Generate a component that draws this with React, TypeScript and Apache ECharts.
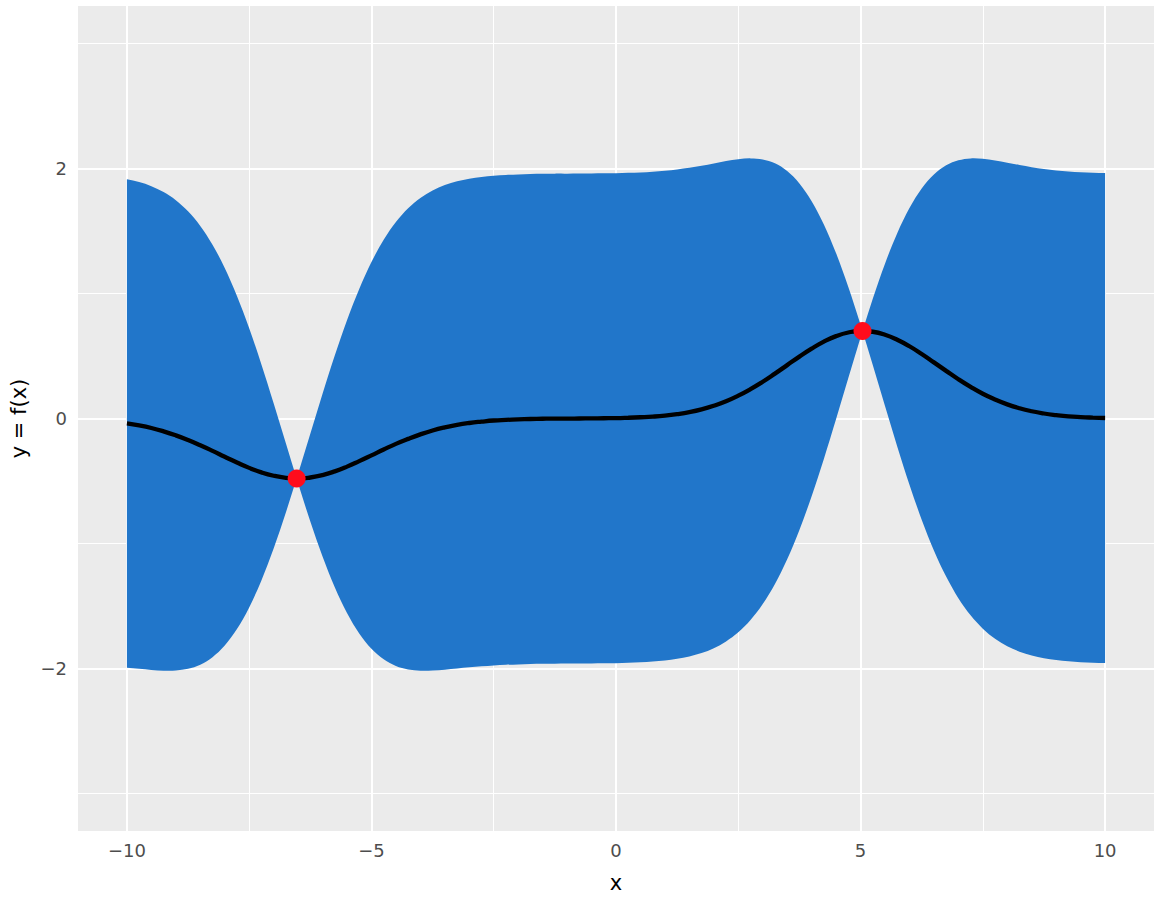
import React, { useEffect, useRef } from "react";
import * as echarts from "echarts";

const xs = [
  -10, -9.75, -9.5, -9.25, -9, -8.75, -8.5, -8.25, -8, -7.75, -7.5, -7.25, -7, -6.75, -6.53, -6.5,
  -6.25, -6, -5.75, -5.5, -5.25, -5, -4.75, -4.5, -4.25, -4, -3.75, -3.5, -3.25, -3, -2.75, -2.5,
  -2.25, -2, -1.75, -1.5, -1.25, -1, -0.75, -0.5, -0.25, 0, 0.25, 0.5, 0.75, 1, 1.25, 1.5, 1.75, 2,
  2.25, 2.5, 2.75, 3, 3.25, 3.5, 3.75, 4, 4.25, 4.5, 4.75, 5, 5.04, 5.25, 5.5, 5.75, 6, 6.25, 6.5,
  6.75, 7, 7.25, 7.5, 7.75, 8, 8.25, 8.5, 8.75, 9, 9.25, 9.5, 9.75, 10,
];

const meanY = [
  -0.039, -0.055, -0.076, -0.103, -0.135, -0.172, -0.214, -0.259, -0.306, -0.352, -0.395, -0.431,
  -0.458, -0.475, -0.48, -0.48, -0.472, -0.453, -0.423, -0.385, -0.341, -0.295, -0.248, -0.203,
  -0.163, -0.127, -0.096, -0.071, -0.051, -0.036, -0.025, -0.016, -0.011, -0.007, -0.004, -0.002,
  -0.001, -0.001, 0.0, 0.001, 0.002, 0.003, 0.006, 0.01, 0.015, 0.023, 0.035, 0.051, 0.073, 0.102,
  0.138, 0.183, 0.235, 0.294, 0.359, 0.427, 0.495, 0.559, 0.615, 0.659, 0.688, 0.7, 0.7, 0.694,
  0.67, 0.63, 0.578, 0.516, 0.449, 0.381, 0.314, 0.253, 0.198, 0.152, 0.113, 0.082, 0.058, 0.04,
  0.027, 0.017, 0.011, 0.007, 0.004,
];

const upperY = [
  1.914, 1.892, 1.859, 1.812, 1.747, 1.658, 1.541, 1.391, 1.204, 0.98, 0.722, 0.433, 0.123, -0.198,
  -0.48, -0.442, -0.121, 0.199, 0.505, 0.787, 1.037, 1.252, 1.43, 1.572, 1.682, 1.764, 1.825, 1.868,
  1.898, 1.919, 1.933, 1.943, 1.949, 1.953, 1.956, 1.958, 1.959, 1.959, 1.96, 1.961, 1.962, 1.963,
  1.966, 1.969, 1.975, 1.982, 1.993, 2.006, 2.023, 2.041, 2.06, 2.075, 2.081, 2.073, 2.042, 1.98,
  1.881, 1.739, 1.553, 1.322, 1.052, 0.75, 0.7, 0.958, 1.239, 1.483, 1.684, 1.841, 1.953, 2.026,
  2.066, 2.081, 2.078, 2.065, 2.047, 2.028, 2.011, 1.997, 1.985, 1.977, 1.971, 1.967, 1.964,
];

const lowerY = [
  -1.993, -2.002, -2.011, -2.017, -2.016, -2.002, -1.969, -1.909, -1.816, -1.684, -1.511, -1.295,
  -1.04, -0.752, -0.48, -0.518, -0.824, -1.104, -1.35, -1.556, -1.72, -1.842, -1.926, -1.979, -2.007,
  -2.017, -2.016, -2.009, -2.0, -1.99, -1.982, -1.975, -1.97, -1.967, -1.964, -1.962, -1.961, -1.96,
  -1.96, -1.959, -1.958, -1.957, -1.954, -1.95, -1.944, -1.936, -1.922, -1.903, -1.876, -1.837,
  -1.783, -1.71, -1.612, -1.484, -1.323, -1.126, -0.891, -0.622, -0.323, -0.004, 0.324, 0.649, 0.7,
  0.429, 0.1, -0.223, -0.529, -0.809, -1.055, -1.264, -1.437, -1.574, -1.681, -1.762, -1.822,
  -1.865, -1.896, -1.917, -1.932, -1.942, -1.949, -1.953, -1.956,
];

const obsX = [-6.53, 5.04];
const obsY = [-0.48, 0.7];

const xTicks = [-10, -5, 0, 5, 10];
const yTicks = [-2, 0, 2];
const xMinor = [-7.5, -2.5, 2.5, 7.5];
const yMinor = [-3, -1, 1, 3];

const FONT = "'DejaVu Sans', 'Liberation Sans', Arial, sans-serif";
const fmt = (v: number) => (v < 0 ? "\u2212" + Math.abs(v) : String(v));

// Smooth cubic (Hermite → Bézier) path through pixel points, with kinks allowed at "breaks".
function edgePath(pts: number[][], breaks: Set<number>, start: string): string {
  const n = pts.length;
  const sec = (i: number) => (pts[i + 1][1] - pts[i][1]) / (pts[i + 1][0] - pts[i][0]);
  const mL: number[] = [];
  const mR: number[] = [];
  for (let i = 0; i < n; i++) {
    if (i === 0) {
      mL[i] = mR[i] = sec(0);
    } else if (i === n - 1) {
      mL[i] = mR[i] = sec(n - 2);
    } else if (breaks.has(i)) {
      mL[i] = sec(i - 1);
      mR[i] = sec(i);
    } else {
      const h0 = pts[i][0] - pts[i - 1][0];
      const h1 = pts[i + 1][0] - pts[i][0];
      const m = (sec(i - 1) * h1 + sec(i) * h0) / (h0 + h1);
      mL[i] = mR[i] = m;
    }
  }
  let d = `${start}${pts[0][0]},${pts[0][1]}`;
  for (let i = 0; i < n - 1; i++) {
    const [x0, y0] = pts[i];
    const [x1, y1] = pts[i + 1];
    const h = x1 - x0;
    d += ` C${x0 + h / 3},${y0 + (mR[i] * h) / 3} ${x1 - h / 3},${y1 - (mL[i + 1] * h) / 3} ${x1},${y1}`;
  }
  return d;
}

export default function App() {
  const ref = useRef<HTMLDivElement>(null);

  useEffect(() => {
    const chart = echarts.init(ref.current as HTMLDivElement, null, { renderer: "svg" });

    const gridLines: any[] = [];
    xMinor.forEach((v) => gridLines.push({ xAxis: v, lineStyle: { color: "#ffffff", width: 1, type: "solid" } }));
    yMinor.forEach((v) => gridLines.push({ yAxis: v, lineStyle: { color: "#ffffff", width: 1, type: "solid" } }));
    xTicks.forEach((v) => gridLines.push({ xAxis: v, lineStyle: { color: "#ffffff", width: 2, type: "solid" } }));
    yTicks.forEach((v) => gridLines.push({ yAxis: v, lineStyle: { color: "#ffffff", width: 2, type: "solid" } }));

    const n = xs.length;
    const pinches = new Set<number>(obsX.map((x) => xs.indexOf(x)));
    const pinchesRev = new Set<number>(obsX.map((x) => n - 1 - xs.indexOf(x)));

    const option: any = {
      animation: false,
      backgroundColor: "#ffffff",
      textStyle: { fontFamily: FONT },
      grid: {
        left: 76,
        right: 14,
        top: 6,
        bottom: 66,
        show: true,
        backgroundColor: "#EBEBEB",
        borderWidth: 0,
      },
      xAxis: {
        type: "value",
        min: -11,
        max: 11,
        name: "x",
        nameLocation: "middle",
        nameGap: 41,
        nameTextStyle: { color: "#000000", fontSize: 21, fontFamily: FONT },
        axisLine: { show: false },
        axisTick: { show: true, customValues: xTicks, length: 6, lineStyle: { color: "#333333", width: 2 } },
        axisLabel: { customValues: xTicks, formatter: fmt, color: "#4D4D4D", fontSize: 18, margin: 10, fontFamily: FONT },
        splitLine: { show: false },
      },
      yAxis: {
        type: "value",
        min: -3.3,
        max: 3.3,
        name: "y = f(x)",
        nameLocation: "middle",
        nameRotate: 90,
        nameGap: 49,
        nameTextStyle: { color: "#000000", fontSize: 21, fontFamily: FONT },
        axisLine: { show: false },
        axisTick: { show: true, customValues: yTicks, length: 6, lineStyle: { color: "#333333", width: 2 } },
        axisLabel: { customValues: yTicks, formatter: fmt, color: "#4D4D4D", fontSize: 18, margin: 11, fontFamily: FONT },
        splitLine: { show: false },
      },
      series: [
        {
          type: "line",
          data: [[-11, 0]],
          symbol: "none",
          lineStyle: { width: 0, opacity: 0 },
          silent: true,
          z: 1,
          markLine: {
            z: 1,
            silent: true,
            symbol: ["none", "none"],
            label: { show: false },
            emphasis: { disabled: true },
            data: gridLines,
          },
        },
        {
          type: "custom",
          z: 3,
          silent: true,
          data: [[0, 0]],
          renderItem: (_params: any, api: any) => {
            const top = xs.map((x, i) => api.coord([x, upperY[i]]));
            const bot = xs.map((x, i) => api.coord([x, lowerY[i]])).reverse();
            const d = edgePath(top, pinches, "M") + " " + edgePath(bot, pinchesRev, "L") + " Z";
            return {
              type: "path",
              shape: { pathData: d },
              style: { fill: "#2176CA", stroke: "none" },
            };
          },
        },
        {
          type: "line",
          z: 4,
          data: xs.map((x, i) => [x, meanY[i]]),
          smooth: true,
          symbol: "none",
          silent: true,
          lineStyle: { color: "#000000", width: 4.3 },
        },
        {
          type: "scatter",
          z: 5,
          data: obsX.map((x, i) => [x, obsY[i]]),
          symbol: "circle",
          symbolSize: 18,
          silent: true,
          itemStyle: { color: "#FF0C1C", borderWidth: 0, opacity: 1 },
        },
      ],
    };

    chart.setOption(option);
    return () => {
      chart.dispose();
    };
  }, []);

  return (
    <div
      ref={ref}
      style={{ position: "fixed", left: 0, top: 0, width: 1168, height: 898, background: "#ffffff" }}
    />
  );
}
